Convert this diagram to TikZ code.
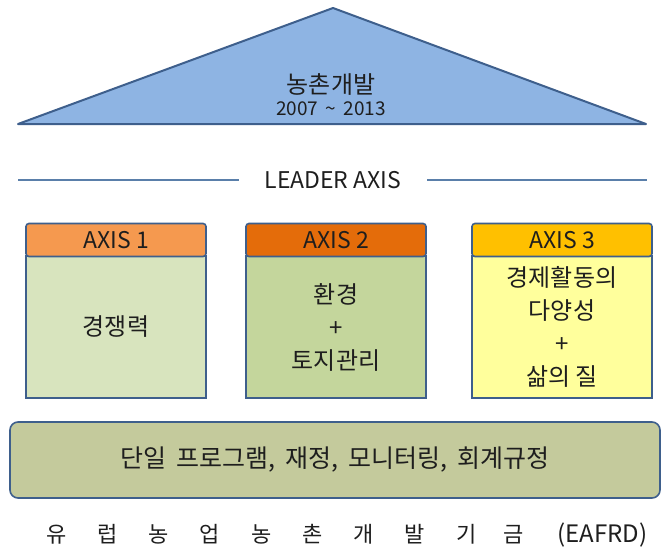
\documentclass[tikz,border=0pt]{standalone}
\usepackage{fontspec}
\setmainfont{Noto Sans CJK KR}
\definecolor{edge}{HTML}{3E5F8C}
\definecolor{roof}{HTML}{8EB4E3}
\definecolor{rule}{HTML}{5A7FAA}
\definecolor{hA}{HTML}{F5994F}
\definecolor{hB}{HTML}{E46C0A}
\definecolor{hC}{HTML}{FFC000}
\definecolor{bA}{HTML}{D8E4BE}
\definecolor{bB}{HTML}{C4D69C}
\definecolor{bC}{HTML}{FFFF9C}
\definecolor{base}{HTML}{C4CA9C}
\definecolor{ink}{HTML}{1E1E1E}
\newcommand{\wsp}{\hspace{10pt}}
\newcommand{\gapf}{\hspace{31pt}}
\tikzset{
  hdr/.style={draw=edge, line width=1.6pt, rounded corners=3pt, minimum width=180pt, minimum height=33pt, inner sep=0pt, text=ink, font=\fontsize{23}{26}\selectfont},
  bodybox/.style={draw=edge, line width=1.6pt, minimum width=180pt, minimum height=142pt, inner sep=0pt, align=center, text=ink, font=\fontsize{24}{33}\selectfont},
  txt/.style={text=ink, inner sep=0pt}
}
\begin{document}
\begin{tikzpicture}[x=1pt,y=-1pt]
\useasboundingbox (0,0) rectangle (668,554);
\fill[white] (0,0) rectangle (668,554);
% roof
\coordinate (apex) at (333,8);
\coordinate (bl) at (18,124);
\coordinate (br) at (646,124);
\draw[edge, fill=roof, line width=2pt, line join=round] (bl) -- (apex) -- (br) -- cycle;
\node[txt, font=\fontsize{24}{26}\selectfont] (title) at (331,84) {농촌개발};
\node[txt, font=\fontsize{19}{22}\selectfont] (years) at (331,109) {2007 \,\textasciitilde\, 2013};
% leader axis
\node[txt, font=\fontsize{23}{26}\selectfont] (leader) at (333,180) {LEADER AXIS};
\coordinate (ll) at (18,180);
\coordinate (llend) at (239,180);
\coordinate (lrstart) at (427,180);
\coordinate (lr) at (647,180);
\draw[rule, line width=2pt] (ll) -- (llend);
\draw[rule, line width=2pt] (lrstart) -- (lr);
% axes
\node[bodybox, fill=bA] (b1) at (116,327) {경쟁력};
\node[bodybox, fill=bB] (b2) at (336,327) {환경\\+\\토지관리};
\node[bodybox, fill=bC] (b3) at (562,327) {경제활동의\\다양성\\+\\삶의 질};
\node[hdr, fill=hA] (h1) at (116,240) {AXIS 1};
\node[hdr, fill=hB] (h2) at (336,240) {AXIS 2};
\node[hdr, fill=hC] (h3) at (562,240) {AXIS 3};
% base bar
\node[draw=edge, line width=1.6pt, fill=base, rounded corners=8pt, minimum width=650pt, minimum height=76pt, text=ink, font=\fontsize{25}{28}\selectfont] (bar) at (335,460) {단일\wsp 프로그램,\wsp 재정,\wsp 모니터링,\wsp 회계규정};
% fund
\node[txt, anchor=west, font=\fontsize{22}{26}\selectfont] (fund) at (46,535) {유\gapf 럽\gapf 농\gapf 업\gapf 농\gapf 촌\gapf 개\gapf 발\gapf 기\hspace{27pt}금\hspace{34pt}{\fontsize{24}{26}\selectfont (EAFRD)}};
\end{tikzpicture}
\end{document}
